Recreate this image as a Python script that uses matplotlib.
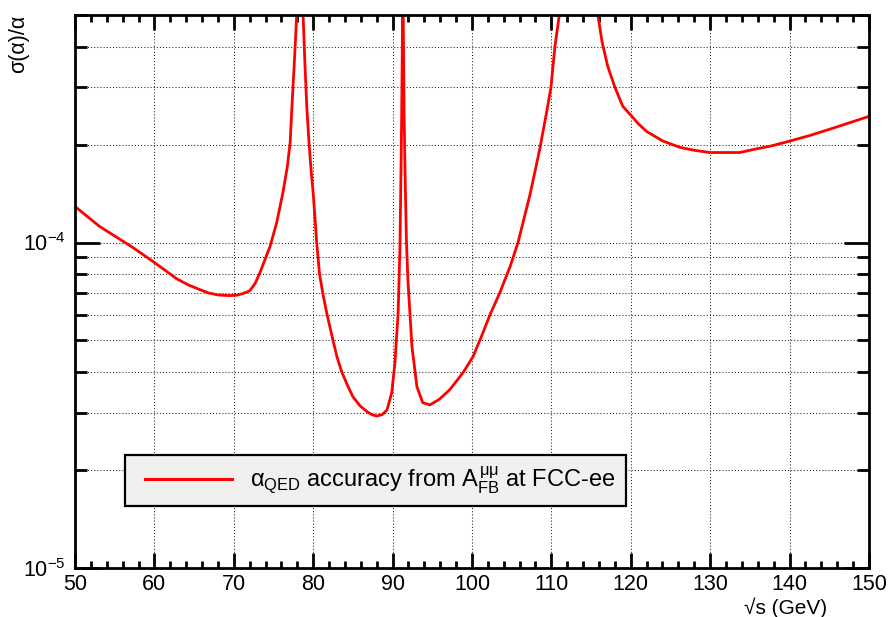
import matplotlib
matplotlib.use("Agg")
import matplotlib.pyplot as plt
from matplotlib.legend_handler import HandlerLine2D
from matplotlib.ticker import MultipleLocator, LogLocator, LogFormatterMathtext, NullFormatter

plt.rcParams['font.family'] = ['Liberation Sans', 'DejaVu Sans']
plt.rcParams['mathtext.fontset'] = 'custom'
plt.rcParams['mathtext.rm'] = 'Liberation Sans'
plt.rcParams['mathtext.it'] = 'Liberation Sans'
plt.rcParams['mathtext.bf'] = 'Liberation Sans:bold'

# sqrt(s) in GeV
sqrt_s = [50, 53.1, 57.3, 60, 62.8, 64.2, 65.7, 66.8, 68, 69.4, 70.2, 71, 72, 72.7,
          73.3, 74.56, 75.4, 76.2, 76.74, 77.1, 77.37, 77.6, 77.85, 78.0,
          78.3, 78.65, 78.8, 78.97, 79.2, 79.47, 79.75, 80.0, 80.44, 80.8,
          81.2, 81.75, 82.5, 83.0, 83.6, 84.3, 85.0, 85.9, 86.8, 87.4, 88.0, 88.7,
          89.3, 89.9, 90.3, 90.7, 90.93, 91.05, 91.15, 91.3, 91.45, 91.6, 91.75,
          91.94, 92.44, 93.07, 93.8, 94.7, 95.9, 97.2, 98.87, 100.13, 101.2,
          102.27, 103.5, 104.8, 105.8, 106.5, 107.3, 108.0, 108.56, 109.45, 109.95,
          110.45, 111.1, 113.4, 115.74, 116.4, 117.1, 118.0, 119.0, 120.15,
          121.0, 122.04, 124.05, 126.2, 128.0, 129.97, 133.75, 135.4, 137.7,
          140.05, 142.5, 145.1, 150]
# relative accuracy sigma(alpha)/alpha
rel_err = [1.29e-4, 1.12e-4, 9.65e-5, 8.68e-5, 7.74e-5, 7.42e-5, 7.17e-5, 7.0e-5, 6.9e-5,
           6.87e-5, 6.88e-5, 6.95e-5, 7.1e-5, 7.5e-5,
           8.09e-5, 9.72e-5, 1.15e-4, 1.43e-4, 1.71e-4, 2.03e-4, 2.75e-4, 3.48e-4, 4.6e-4, 5.6e-4,
           5.1e-4, 5.6e-4, 4.5e-4, 3.48e-4, 2.6e-4, 2.03e-4, 1.65e-4, 1.42e-4, 1.0e-4, 8.0e-5,
           7.0e-5, 6.0e-5, 5.0e-5, 4.45e-5, 4.0e-5, 3.65e-5, 3.36e-5, 3.15e-5, 3.02e-5, 2.96e-5,
           2.93e-5, 2.96e-5,
           3.06e-5, 3.46e-5, 4.28e-5, 6.1e-5, 9.7e-5, 1.6e-4, 2.5e-4, 6.5e-4, 2.5e-4, 1.5e-4,
           1.0e-4, 7.6e-5, 4.79e-5, 3.6e-5, 3.22e-5, 3.17e-5, 3.3e-5, 3.53e-5, 3.98e-5, 4.46e-5,
           5.15e-5, 6.0e-5, 7.0e-5, 8.43e-5, 1.0e-4, 1.17e-4, 1.4e-4, 1.68e-4, 1.95e-4, 2.55e-4,
           3.0e-4, 4.0e-4, 5.2e-4, 8e-4, 5.2e-4, 4.12e-4, 3.48e-4, 3.0e-4, 2.62e-4, 2.44e-4,
           2.31e-4, 2.19e-4, 2.05e-4, 1.96e-4, 1.92e-4, 1.89e-4, 1.89e-4, 1.93e-4, 1.98e-4,
           2.05e-4, 2.13e-4, 2.23e-4, 2.44e-4]

legend_label = r'$\alpha_{\rm QED}$ accuracy from $A_{\rm FB}^{\mu\mu}$ at FCC-ee'

fig = plt.figure(figsize=(8.9, 6.17), dpi=100)
ax = fig.add_axes([0.0843, 0.0794, 0.892, 0.8963])

ax.plot(sqrt_s, rel_err, color='#ff0000', lw=2.0, label=legend_label,
        solid_joinstyle='round')

ax.set_xlim(50, 150)
ax.set_yscale('log')
ax.set_ylim(1e-5, 5e-4)

ax.xaxis.set_major_locator(MultipleLocator(10))
ax.xaxis.set_minor_locator(MultipleLocator(2))
ax.yaxis.set_major_locator(LogLocator(base=10))
ax.yaxis.set_minor_locator(LogLocator(base=10, subs=range(2, 10)))
ax.yaxis.set_major_formatter(LogFormatterMathtext())
ax.yaxis.set_minor_formatter(NullFormatter())

ax.tick_params(which='both', direction='in', top=True, right=True, width=2,
               labelsize=15.5, color='k')
ax.tick_params(axis='x', which='major', length=11, pad=4.5)
ax.tick_params(axis='x', which='minor', length=5)
ax.tick_params(axis='y', which='major', length=18, pad=7)
ax.tick_params(axis='y', which='minor', length=8.6)

for sp in ax.spines.values():
    sp.set_linewidth(2)

ax.grid(True, axis='x', which='major', ls=(0, (1, 2)), color='#222222', lw=0.75)
ax.grid(True, axis='y', which='both', ls=(0, (1, 2)), color='#222222', lw=0.75)

fs = 17
leg = ax.legend(loc='center', bbox_to_anchor=(0.063, 0.1085, 0.631, 0.0995),
                mode='expand', borderaxespad=0, fontsize=fs, fancybox=False,
                framealpha=1, facecolor='#f0f0f0', edgecolor='k',
                borderpad=0.4, handlelength=4.14, handletextpad=0.76,
                handler_map={ax.lines[0]: HandlerLine2D(xpad=0.45)})
leg.get_frame().set_linewidth(1.6)
leg.legend_handles[0].set_linewidth(2.2)

ax.set_xlabel('√s (GeV)', fontsize=15)
ax.xaxis.set_label_coords((827 - 75) / 794, -(597 - 568) / 553)
ax.xaxis.label.set_horizontalalignment('right')
ax.xaxis.label.set_verticalalignment('top')

ax.set_ylabel('σ(α)/α', fontsize=15.5)
ax.yaxis.set_label_coords((19 - 75) / 794, 1.0)
ax.yaxis.label.set_horizontalalignment('right')
ax.yaxis.label.set_verticalalignment('center')

fig.savefig('out.png', dpi=100)
